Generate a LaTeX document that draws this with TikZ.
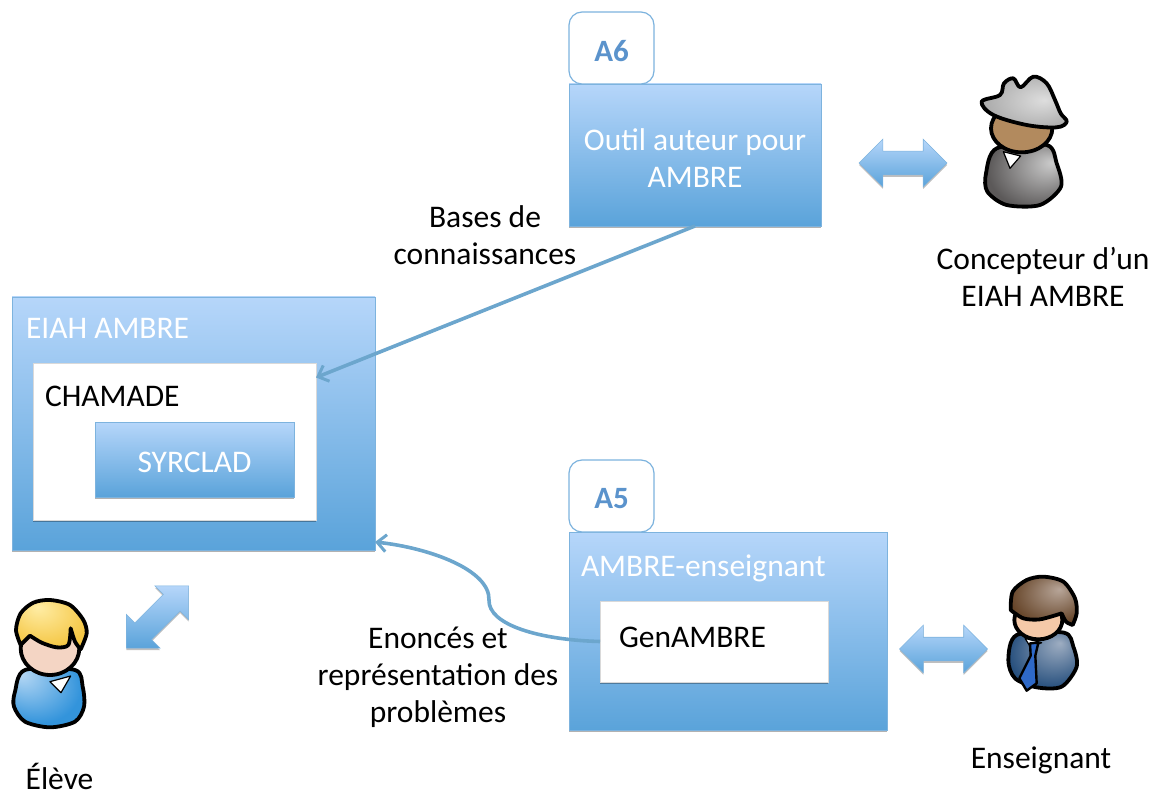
\documentclass[tikz,border=0pt]{standalone}
\usepackage{fontspec}
\setmainfont{Carlito}
\usetikzlibrary{positioning}
\usetikzlibrary{arrows.meta}
\usetikzlibrary{shadows}
\usetikzlibrary{shapes.arrows}

\definecolor{boxtop}{HTML}{B6D6FA}
\definecolor{boxbottom}{HTML}{5AA3DA}
\definecolor{boxline}{HTML}{7DB3DE}
\definecolor{linkblue}{HTML}{6CA6CD}
\definecolor{tabtext}{HTML}{5B93CC}

\newcommand{\iconshade}[5]{%
    \pgfdeclareradialshading{#1}{\pgfpoint{#2bp}{#3bp}}{rgb(0bp)=(#4); rgb(30bp)=(#5); rgb(50bp)=(#5)}}
\iconshade{hatshade}{12}{2}{0.87,0.87,0.87}{0.66,0.66,0.66}
\iconshade{greyshade}{18}{10}{0.80,0.80,0.80}{0.36,0.35,0.35}
\iconshade{blondshade}{-10}{18}{1,0.93,0.65}{0.96,0.78,0.27}
\iconshade{pupilshade}{-20}{20}{0.72,0.85,0.96}{0.20,0.58,0.86}
\iconshade{brownshade}{12}{12}{0.72,0.65,0.60}{0.40,0.27,0.16}
\iconshade{suitshade}{12}{15}{0.62,0.68,0.76}{0.15,0.31,0.49}

\begin{document}
\begin{tikzpicture}[x=1pt, y=-1pt,
    every node/.style={font=\fontsize{31.5}{36.5}\selectfont, outer sep=0pt, inner sep=0pt},
    bluebox/.style={draw=boxline, line width=0.7pt, top color=boxtop, bottom color=boxbottom, text=white, align=center,
        drop shadow={shadow xshift=0pt, shadow yshift=-2pt, opacity=0.3, fill=black}},
    whitebox/.style={fill=white, draw=white!85!black, line width=0.5pt,
        drop shadow={shadow xshift=0pt, shadow yshift=-2pt, opacity=0.3, fill=black}},
    tabbox/.style={draw=boxline, line width=1.2pt, fill=white, rounded corners=13pt, minimum width=85pt, minimum height=72pt},
    tabtitle/.style={text=tabtext, font=\fontsize{31}{36}\selectfont\bfseries},
    boxlabel/.style={anchor=base west},
    textlabel/.style={align=center, text=black},
    bothways/.style={shape=double arrow, draw=boxline, line width=0.6pt, top color=boxtop, bottom color=boxbottom,
        inner sep=11.5pt, double arrow head extend=12pt, minimum height=88pt,
        drop shadow={shadow xshift=0pt, shadow yshift=-2pt, opacity=0.25, fill=black}},
    link/.style={draw=linkblue, line width=3.6pt, -{Straight Barb[length=9pt, width=17pt, line width=3pt]}},
    iconline/.style={draw=black, line width=3.8pt, line join=round}]
    \useasboundingbox (0,0) rectangle (1156,791);

    % authoring tool
    \node[bluebox, minimum width=252pt, minimum height=142pt] (outil) at (695,155) {};
    \node[tabbox, above right=0pt and 0pt of outil.north west] (tabsix) {};
    \node[tabtitle] (asix) at (611.5,51) {A6};
    \node[text=white, align=center] (outiltext) at (695,158) {Outil auteur pour \\ AMBRE};

    % EIAH
    \node[bluebox, minimum width=363pt, minimum height=253pt] (eiah) at (193.5,423.5) {};
    \node[boxlabel, text=white] (eiahtext) at (26,339) {EIAH AMBRE};
    \node[whitebox, minimum width=283pt, minimum height=157pt] (chamade) at (174.5,441.5) {};
    \node[boxlabel] (chamadetext) at (45,406) {CHAMADE};
    \node[bluebox, minimum width=199pt, minimum height=75pt] (syrclad) at (194.5,459.5) {};
    \node[text=white] (syrcladtext) at (194.5,462) {SYRCLAD};

    % teacher tool
    \node[bluebox, minimum width=318pt, minimum height=198pt] (ambreens) at (728,631) {};
    \node[tabbox, above right=0pt and 0pt of ambreens.north west] (tabfive) {};
    \node[tabtitle] (afive) at (611.5,499) {A5};
    \node[boxlabel, text=white] (ambreenstext) at (581,576) {AMBRE-enseignant};
    \node[whitebox, minimum width=228pt, minimum height=81pt] (genambre) at (714,641.5) {};
    \node[boxlabel] (genambretext) at (619,647) {GenAMBRE};

    % double arrows
    \node[bothways] (arrowconcepteur) at (903,163) {};
    \node[bothways] (arrowenseignant) at (943.5,649) {};
    \node[bothways, rotate=45] (arroweleve) at (157.5,617) {};

    % links
    \coordinate[above=64pt of chamade.east] (chamadein);
    \draw[link] (outil.south) -- (chamadein);
    \coordinate[above=8pt of eiah.south east] (eiahin);
    \draw[link] (genambre.west) .. controls (540,640) and (488,625) .. (489,600)
        .. controls (490,570) and (430,548) .. (eiahin);

    % labels
    \node[textlabel] (bases) at (485,235) {Bases de \\ connaissances};
    \node[textlabel, font=\fontsize{31.5}{37}\selectfont] (enonces) at (438,677) {Enoncés et \\ représentation des \\ problèmes};
    \node[textlabel] (concepteur) at (1043,277) {Concepteur d’un \\ EIAH AMBRE};
    \node[textlabel] (enseignant) at (1041,760) {Enseignant};
    \node[textlabel, anchor=base] (eleve) at (59.5,789) {Élève};

    % designer
    \begin{scope}[shift={(900,50)}, scale=1/3]
        \path[iconline, shading=greyshade] plot[smooth cycle] coordinates {(290,295) (258,370) (262,425) (320,465) (420,465) (483,410) (470,340) (440,285)};
        \path[iconline, fill=white, line width=1.2pt] (310,305) -- (330,355) -- (362,318) -- cycle;
        \path[iconline, fill={rgb,255:red,178;green,138;blue,94}] (365,235) ellipse [x radius=92, y radius=72];
        \path[iconline, shading=hatshade] plot[smooth cycle, tension=0.6] coordinates {(245,155) (300,135) (312,100) (340,85) (362,112) (400,80) (440,100) (465,150) (482,190) (500,215) (470,232) (380,225) (280,195)};
    \end{scope}

    % pupil
    \begin{scope}[shift={(0,570)}, scale=1/3]
        \path[iconline, shading=pupilshade] plot[smooth cycle] coordinates {(75,300) (45,365) (42,410) (75,455) (150,472) (225,455) (252,410) (248,350) (225,300)};
        \path[iconline, fill=white, line width=1.2pt] (150,335) -- (183,368) -- (212,318) -- cycle;
        \path[iconline, fill={rgb,255:red,244;green,213;blue,196}] (150,235) ellipse [x radius=88, y radius=80];
        \path[iconline, shading=blondshade] (62,225) -- plot[smooth] coordinates {(62,225) (48,180) (62,130) (100,98) (150,90) (210,105) (250,150) (260,190) (242,238)}
            -- plot[smooth] coordinates {(242,238) (225,215) (212,175)} -- plot[smooth] coordinates {(212,175) (205,225) (170,232) (125,218) (90,197)} -- cycle;
    \end{scope}

    % teacher
    \begin{scope}[shift={(880,560)}, scale=1/3]
        \path[iconline, shading=suitshade] plot[smooth cycle] coordinates {(410,225) (385,300) (405,355) (470,382) (545,380) (590,320) (580,260) (552,218)};
        \path[iconline, fill=white, line width=1.2pt] (435,235) -- (452,262) -- (485,248) -- cycle;
        \path[iconline, fill={rgb,255:red,46;green,105;blue,200}, line width=2.4pt] (450,250) -- (475,248) -- (466,287) -- (470,370) -- (440,392) -- (418,355) -- (452,287) -- cycle;
        \path[iconline, fill={rgb,255:red,245;green,201;blue,168}] (475,180) ellipse [x radius=72, y radius=58];
        \path[iconline, shading=brownshade] (392,150) -- plot[smooth] coordinates {(392,150) (398,95) (440,60) (490,50) (550,65) (585,115) (590,160) (578,195)}
            -- plot[smooth] coordinates {(578,195) (558,185) (545,160)} -- plot[smooth] coordinates {(545,160) (480,178) (430,175) (392,150)} -- cycle;
    \end{scope}
\end{tikzpicture}
\end{document}
